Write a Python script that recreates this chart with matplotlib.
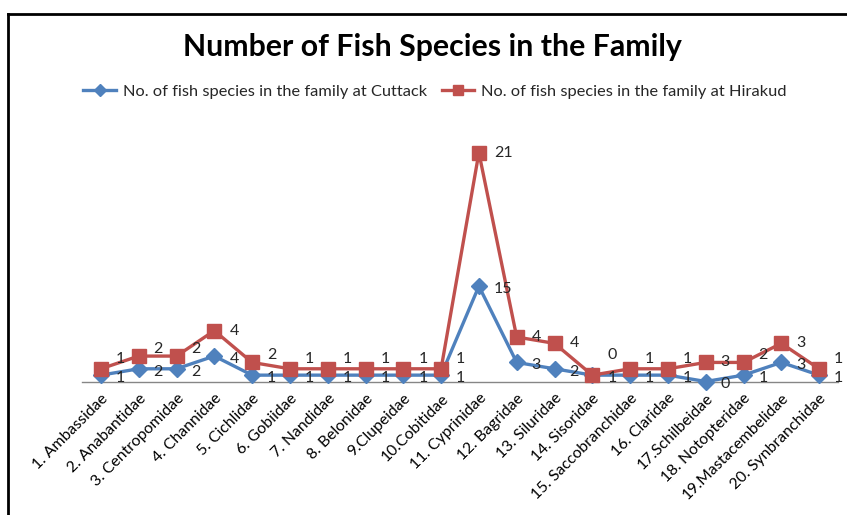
import matplotlib
matplotlib.use("Agg")
import matplotlib.pyplot as plt
from matplotlib.lines import Line2D
import numpy as np

families = [
    "1. Ambassidae", "2. Anabantidae", "3. Centropomidae", "4. Channidae",
    "5. Cichlidae", "6. Gobiidae", "7. Nandidae", "8. Belonidae",
    "9.Clupeidae", "10.Cobitidae", "11. Cyprinidae", "12. Bagridae",
    "13. Siluridae", "14. Sisoridae", "15. Saccobranchidae", "16. Claridae",
    "17.Schilbeidae", "18. Notopteridae", "19.Mastacembelidae", "20. Synbranchidae",
]
cuttack = [1, 2, 2, 4, 1, 1, 1, 1, 1, 1, 15, 3, 2, 1, 1, 1, 0, 1, 3, 1]
hirakud = [1, 2, 2, 4, 2, 1, 1, 1, 1, 1, 21, 4, 4, 0, 1, 1, 3, 2, 3, 1]

label_cuttack = "No. of fish species in the family at Cuttack"
label_hirakud = "No. of fish species in the family at Hirakud"
title = "Number of Fish Species in the Family"

BLUE = "#4F81BD"
RED = "#C0504D"
TXT = "#262626"
FONT = ["Lato", "DejaVu Sans"]
plt.rcParams["font.family"] = FONT

W, H = 847, 515
PX = 0.72  # points per pixel at dpi 100
fig = plt.figure(figsize=(W / 100, H / 100), dpi=100)
ax = fig.add_axes([82 / W, 1 - 381.5 / H, (838 - 82) / W, 254.2 / H])

x = np.arange(1, len(families) + 1)
c = np.array(cuttack)
# stacked line chart: second series sits on top of the first
h_stack = c + np.array(hirakud)

ax.plot(x, c, color=BLUE, lw=2.4, marker="D", ms=8, mfc=BLUE, mec=BLUE,
        clip_on=False, zorder=3)
ax.plot(x, h_stack, color=RED, lw=2.4, marker="s", ms=10.5, mfc=RED, mec=RED,
        clip_on=False, zorder=4)

# upper labels are lifted when the two lines run close together
lift_px = {0: 20, 1: 10, 2: 7}
label_dx = 15 * PX
for xi, yi, v in zip(x, c, cuttack):
    ax.annotate(str(v), (xi, yi), xytext=(label_dx, -3 * PX),
                textcoords="offset points", ha="left", va="center",
                fontsize=11.5, color=TXT, zorder=5)
for xi, yi, v in zip(x, h_stack, hirakud):
    dy = lift_px.get(v, 0)
    ax.annotate(str(v), (xi, yi), xytext=(label_dx, dy * PX),
                textcoords="offset points", ha="left", va="center",
                fontsize=11.5, color=TXT, zorder=5)

ax.set_xlim(0.5, len(families) + 0.5)
ax.set_ylim(0, 40)
ax.set_yticks([])
ax.set_xticks(x)
ax.set_xticklabels(families, rotation=45, ha="right", va="top",
                   rotation_mode="anchor", fontsize=11.3, color="#000000")
ax.tick_params(axis="x", length=0, pad=7)
for side in ("top", "right", "left"):
    ax.spines[side].set_visible(False)
ax.spines["bottom"].set_color("#868686")
ax.spines["bottom"].set_linewidth(1.0)
ax.patch.set_visible(False)

fig.text(432 / W, 1 - 47 / H, title, ha="center", va="center",
         fontsize=21.8, fontweight="bold", color="#000000")

handles = [
    Line2D([], [], color=BLUE, lw=2.4, marker="D", ms=6, mfc=BLUE, mec=BLUE),
    Line2D([], [], color=RED, lw=2.4, marker="s", ms=7.5, mfc=RED, mec=RED),
]
fig.legend(handles, [label_cuttack, label_hirakud], loc="center",
           bbox_to_anchor=(435 / W, 1 - 92 / H), ncol=2, frameon=False,
           fontsize=11.8, handlelength=2.0, handletextpad=0.4,
           columnspacing=0.9, borderpad=0, borderaxespad=0, labelcolor=TXT)

# frame lines along the top and left edges
fig.add_artist(Line2D([8 / W, 1.0], [1 - 14 / H, 1 - 14 / H], transform=fig.transFigure,
                      color="black", lw=2.0))
fig.add_artist(Line2D([8 / W, 8 / W], [0.0, 1 - 14 / H], transform=fig.transFigure,
                      color="black", lw=2.0))

fig.savefig("out.png", dpi=100)
